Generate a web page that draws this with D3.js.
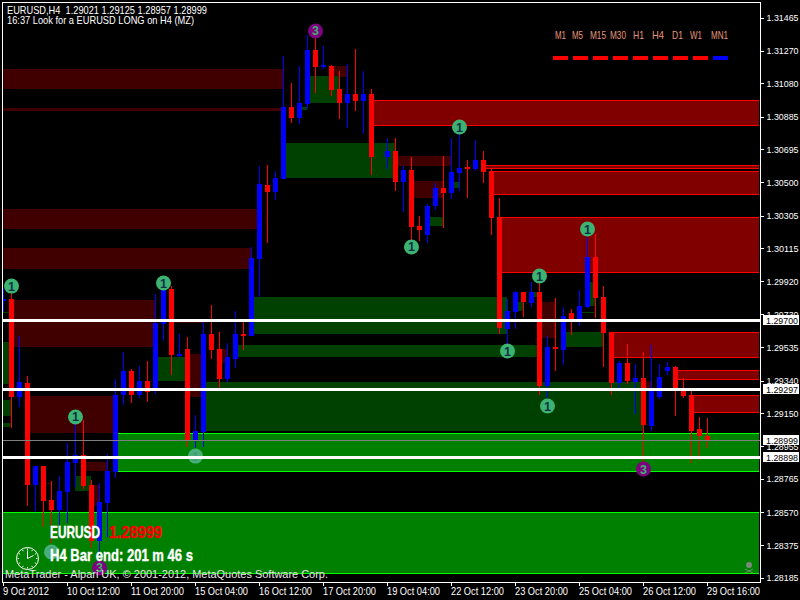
<!DOCTYPE html>
<html>
<head>
<meta charset="utf-8">
<script src="https://cdn.jsdelivr.net/npm/d3@7"></script>
<style>
  html, body { margin: 0; padding: 0; background: #000; overflow: hidden; }
  svg { display: block; font-family: "Liberation Sans", sans-serif; }
</style>
</head>
<body>
<div id="chart"></div>
<script>
// candles, null = the hole in the H4 history at 17/18 Oct
const barOpen = [1.29806,1.29817,1.29244,1.29326,1.28729,1.28840,1.28641,1.28582,1.28688,1.28858,1.28904,1.28729,1.28401,1.28623,1.28805,1.29255,1.29396,1.29255,1.29337,1.29279,1.29671,1.29876,1.29490,1.29525,1.28986,1.29039,1.29613,1.29525,1.29349,1.29466,1.29613,1.29601,1.30052,1.30485,1.30444,1.30520,1.30941,1.30877,1.30959,1.31275,1.31175,1.31181,1.31047,1.30965,1.31017,1.30976,1.31017,null,1.30649,1.30684,1.30502,1.30572,1.30245,1.30192,1.30362,1.30467,1.30438,1.30555,1.30590,1.30578,1.30631,1.30567,1.30297,1.29642,1.29741,1.29858,1.29794,1.29858,1.29308,1.29537,1.29519,1.29736,1.29700,1.29771,1.30063,1.29829,1.29624,1.29326,1.29443,1.29332,1.29355,1.29074,1.29244,1.29396,1.29419,1.29279,1.29255,1.29057,1.29016];
const barHigh = [1.29882,1.29911,1.29601,1.29367,1.28840,1.28840,1.28752,1.28781,1.28975,1.29109,1.29109,1.28758,1.28741,1.28910,1.29349,1.29507,1.29408,1.29425,1.29455,1.29847,1.29905,1.29893,1.29613,1.29595,1.29139,1.29683,1.29782,1.29624,1.29560,1.29747,1.29683,1.30122,1.30596,1.30602,1.30567,1.31240,1.31082,1.31181,1.31363,1.31345,1.31298,1.31187,1.31152,1.31193,1.31281,1.31152,1.31047,null,1.30760,1.30760,1.30596,1.30649,1.30303,1.30373,1.30496,1.30654,1.30760,1.30830,1.30631,1.30748,1.30684,1.30578,1.30409,1.29817,1.29864,1.29858,1.29917,1.29929,1.29601,1.29823,1.29771,1.29759,1.29870,1.30180,1.30198,1.29893,1.29624,1.29455,1.29554,1.29437,1.29507,1.29548,1.29437,1.29449,1.29425,1.29355,1.29279,1.29127,1.29121];
const barLow = [1.29741,1.29062,1.29185,1.28606,1.28577,1.28483,1.28389,1.28495,1.28506,1.28717,1.28705,1.28360,1.28319,1.28424,1.28770,1.29197,1.29209,1.29238,1.29215,1.29261,1.29572,1.29373,1.29478,1.28951,1.28945,1.28951,1.29466,1.29297,1.29332,1.29414,1.29519,1.29601,1.29829,1.30145,1.30397,1.30520,1.30847,1.30842,1.30929,1.31023,1.31164,1.31006,1.30871,1.30818,1.30918,1.30783,1.30543,null,1.30578,1.30450,1.30327,1.30145,1.30157,1.30145,1.30338,1.30233,1.30403,1.30450,1.30409,1.30567,1.30496,1.30192,1.29613,1.29548,1.29642,1.29712,1.29771,1.29255,1.29238,1.29396,1.29431,1.29607,1.29659,1.29765,1.29706,1.29419,1.29255,1.29297,1.29320,1.29144,1.28858,1.29045,1.29232,1.29373,1.29133,1.29238,1.28858,1.28875,1.28945];
const barClose = [1.29817,1.29244,1.29332,1.28729,1.28840,1.28635,1.28582,1.28694,1.28863,1.28904,1.28723,1.28401,1.28629,1.28811,1.29255,1.29396,1.29255,1.29337,1.29273,1.29677,1.29870,1.29490,1.29495,1.28986,1.29045,1.29613,1.29519,1.29349,1.29478,1.29613,1.29601,1.30057,1.30491,1.30444,1.30526,1.30941,1.30877,1.30965,1.31275,1.31175,1.31187,1.31041,1.30965,1.31017,1.30976,1.31017,1.30649,null,1.30684,1.30502,1.30572,1.30239,1.30221,1.30362,1.30467,1.30438,1.30561,1.30584,1.30578,1.30631,1.30561,1.30292,1.29648,1.29747,1.29858,1.29800,1.29858,1.29308,1.29537,1.29525,1.29718,1.29700,1.29776,1.30063,1.29823,1.29618,1.29326,1.29443,1.29337,1.29355,1.29080,1.29279,1.29361,1.29419,1.29297,1.29250,1.29045,1.29016,1.28986];

// supply/demand zones: [first bar, last bar (null = runs to the right edge), upper price, lower price]
const weakSupply = [[0,35,1.31164,1.31047],[0,35,1.30935,1.30918],[0,32,1.30344,1.30227],[0,31,1.30116,1.29993],[1,19,1.29812,1.29537],[21,25,1.29694,1.29677],[23,25,1.29495,1.29244],[27,28,1.29525,1.29443],[3,14,1.29250,1.29033],[5,6,1.28741,1.28735],[10,13,1.28863,1.28811],[11,12,1.28729,1.28606],[41,43,1.31181,1.31117],[49,56,1.30654,1.30596],[51,55,1.30508,1.30409],[67,69,1.29800,1.29589],[80,81,1.29337,1.29285]];
const weakDemand = [[38,42,1.31123,1.30965],[37,38,1.30941,1.30924],[35,49,1.30730,1.30526],[56,57,1.30502,1.30467],[53,55,1.30297,1.30245],[31,63,1.29829,1.29613],[29,67,1.29548,1.29478],[70,75,1.29624,1.29537],[64,65,1.29800,1.29747],[66,67,1.29858,1.29829],[73,74,1.29917,1.29776],[72,74,1.29741,1.29736],[19,23,1.29478,1.29337],[25,80,1.29332,1.29045],[0,1,1.29566,1.29320],[0,1,1.29741,1.29736],[0,1,1.29226,1.29133],[0,1,1.29092,1.29068],[9,11,1.28781,1.28694]];
const freshSupply = [[46,null,1.30982,1.30836],[60,null,1.30602,1.30584],[61,null,1.30567,1.30432],[62,null,1.30297,1.29975],[76,null,1.29624,1.29478],[84,null,1.29402,1.29349],[86,null,1.29255,1.29156]];
const freshDemand = [[14,null,1.29033,1.28811],[0,null,1.28571,1.28214]];

// numbered swing markers
const markerBars = [1,20,9,24,6,12,39,51,57,63,67,68,73,80];
const markerPrices = [1.29893,1.29911,1.29127,1.28898,1.28337,1.28243,1.31386,1.30122,1.30824,1.29513,1.29952,1.29191,1.30227,1.28822];
const markerCounts = [1,1,1,1,1,3,3,1,1,1,1,1,1,3];
const markerOnBright = [false,false,false,true,true,false,false,false,false,false,false,false,false,false];

const priceLines = [1.29700, 1.29297, 1.28898];
const bidPrice = 1.28999;

const yTicks = [1.31465,1.31270,1.31080,1.30885,1.30695,1.30500,1.30305,1.30115,1.29920,1.29730,1.29535,1.29340,1.29150,1.28955,1.28765,1.28570,1.28375,1.28185];
const xTickBars = [0,8,16,24,32,40,48,56,64,72,80,88];
const xTickLabels = ["9 Oct 2012","10 Oct 12:00","11 Oct 20:00","15 Oct 04:00","16 Oct 12:00","17 Oct 20:00","19 Oct 04:00","22 Oct 12:00","23 Oct 20:00","25 Oct 04:00","26 Oct 12:00","29 Oct 16:00"];

const tfNames = ["M1","M5","M15","M30","H1","H4","D1","W1","MN1"];
const tfUp = [false,false,false,false,false,false,false,false,true];

const RED = "#ff0000", BLUE = "#0000ff";

const svg = d3.select("#chart").append("svg").attr("width", 800).attr("height", 600);
svg.append("rect").attr("width", 800).attr("height", 600).attr("fill", "#000");

const x = d3.scaleLinear().domain([0, 94.625]).range([3, 760]);
const y = d3.scaleLinear().domain([1.31465, 1.28185]).range([17.5, 577.9]);
const px = i => Math.round(x(i));
const py = p => Math.round(y(p));
const linesNudge = 1.3; // level lines sit a bit under the rounded axis labels

svg.append("defs").append("clipPath").attr("id", "plot")
  .append("rect").attr("x", 3).attr("y", 3).attr("width", 757).attr("height", 579);

const plot = svg.append("g").attr("clip-path", "url(#plot)").attr("shape-rendering", "crispEdges");

function drawZones(zones, fill, border) {
  const g = plot.append("g");
  const x1 = d => d[1] === null ? 759 : px(d[1]);
  g.selectAll("rect").data(zones).join("rect")
    .attr("x", d => px(d[0]))
    .attr("y", d => py(d[2]))
    .attr("width", d => x1(d) - px(d[0]))
    .attr("height", d => py(d[3]) - py(d[2]))
    .attr("fill", fill);
  if (border) {
    [2, 3].forEach(k => {
      g.selectAll("line.b" + k).data(zones).join("line")
        .attr("class", "b" + k)
        .attr("x1", d => px(d[0])).attr("x2", x1)
        .attr("y1", d => py(d[k]) + 0.5).attr("y2", d => py(d[k]) + 0.5)
        .attr("stroke", border);
    });
  }
}
drawZones(weakSupply, "#400000");
drawZones(weakDemand, "#004000");
drawZones(freshDemand, "#008000", "#00ff00");
drawZones(freshSupply, "#800000", "#ff0000");

// candles
const bars = d3.range(barOpen.length).filter(i => barOpen[i] !== null);
const barColor = i => barClose[i] >= barOpen[i] ? BLUE : RED;
plot.append("g").selectAll("rect").data(bars).join("rect")
  .attr("x", i => px(i)).attr("width", 1)
  .attr("y", i => py(barHigh[i]))
  .attr("height", i => py(barLow[i]) - py(barHigh[i]))
  .attr("fill", barColor);
plot.append("g").selectAll("rect").data(bars).join("rect")
  .attr("x", i => px(i) - 2).attr("width", 5)
  .attr("y", i => py(Math.max(barOpen[i], barClose[i])))
  .attr("height", i => Math.max(2, py(Math.min(barOpen[i], barClose[i])) - py(Math.max(barOpen[i], barClose[i]))))
  .attr("fill", barColor);

// markers
const markers = svg.append("g").selectAll("g").data(markerBars).join("g")
  .attr("transform", (b, i) => `translate(${px(b) + 0.5},${y(markerPrices[i])})`);
markers.append("circle").attr("r", 7.5)
  .attr("fill", (b, i) => markerCounts[i] === 3 ? "#800080" : markerOnBright[i] ? "#4aae7c" : "#3cb371");
markers.append("text").text((b, i) => markerCounts[i])
  .attr("text-anchor", "middle").attr("y", 4.5).attr("font-size", 12.5).attr("font-weight", "bold")
  .attr("fill", (b, i) => markerCounts[i] === 3 ? "#3cb371" : markerOnBright[i] ? "#3f9f70" : "#10304a");

// level lines
const levels = svg.append("g").attr("shape-rendering", "crispEdges");
levels.append("rect").attr("x", 3).attr("width", 757).attr("y", Math.round(y(bidPrice) + linesNudge)).attr("height", 1).attr("fill", "#808080");
levels.selectAll("rect.level").data(priceLines).join("rect").attr("class", "level")
  .attr("x", 3).attr("width", 757)
  .attr("y", d => Math.round(y(d) + linesNudge - 1.5)).attr("height", 3)
  .attr("fill", "#fff");

// frame
svg.append("rect").attr("x", 2.5).attr("y", 2.5).attr("width", 758).attr("height", 580)
  .attr("fill", "none").attr("stroke", "#fff").attr("shape-rendering", "crispEdges");

// axes
const yAxis = svg.append("g").attr("transform", "translate(760.5,0)")
  .call(d3.axisRight(y).tickValues(yTicks).tickFormat(d3.format(".5f")).tickSize(3).tickPadding(3));
const xAxis = svg.append("g").attr("transform", "translate(0,582.5)")
  .call(d3.axisBottom(x).tickValues(xTickBars).tickFormat((d, i) => xTickLabels[i]).tickSize(3).tickPadding(2));
[yAxis, xAxis].forEach(a => {
  a.select(".domain").remove();
  a.selectAll("line").attr("stroke", "#fff").attr("shape-rendering", "crispEdges");
  a.selectAll("text").attr("fill", "#fff").attr("font-family", "Liberation Sans").attr("font-size", 10.5)
    .attr("lengthAdjust", "spacingAndGlyphs");
});
yAxis.selectAll("text").attr("font-size", 9.6).attr("textLength", 32);
xAxis.selectAll("text").attr("text-anchor", "start").attr("dx", -0.5)
  .attr("textLength", (d, i) => xTickLabels[i].length < 12 ? 46 : 53);

// price flags on the right
const flags = svg.append("g").selectAll("g").data([...priceLines, bidPrice]).join("g")
  .attr("transform", d => `translate(763,${Math.round(y(d) + linesNudge)})`);
flags.append("rect").attr("y", -5).attr("width", 36).attr("height", 10).attr("fill", "#fff").attr("shape-rendering", "crispEdges");
flags.append("text").text(d3.format(".5f")).attr("x", 3).attr("y", 4).attr("font-size", 9.6).attr("fill", "#000")
  .attr("textLength", 32).attr("lengthAdjust", "spacingAndGlyphs");

// header
const header = svg.append("g").attr("fill", "#fff").attr("font-size", 10.5);
header.append("text").attr("x", 7).attr("y", 14).attr("textLength", 200).attr("lengthAdjust", "spacingAndGlyphs")
  .style("white-space", "pre").text("EURUSD,H4  1.29021 1.29125 1.28957 1.28999");
header.append("text").attr("x", 7).attr("y", 24).attr("textLength", 187).attr("lengthAdjust", "spacingAndGlyphs")
  .text("16:37 Look for a EURUSD LONG on H4 (MZ)");

// timeframe panel
const tfX = d3.scalePoint().domain(tfNames).range([553, 713]);
const tfLabelX = [555, 572, 590, 610, 633, 652, 672, 690, 711];
const tfLabelW = [11, 11, 16, 16, 11, 12, 11, 12, 17];
svg.append("g").selectAll("text").data(tfNames).join("text")
  .attr("x", (d, i) => tfLabelX[i]).attr("y", 39)
  .attr("textLength", (d, i) => tfLabelW[i]).attr("lengthAdjust", "spacingAndGlyphs")
  .attr("font-size", 10.5).attr("fill", "#e9967a").text(d => d);
svg.append("g").selectAll("rect").data(tfNames).join("rect")
  .attr("x", d => tfX(d)).attr("y", 56).attr("width", 15).attr("height", 4)
  .attr("fill", (d, i) => tfUp[i] ? BLUE : RED).attr("shape-rendering", "crispEdges");

// info overlay, bottom left
const info = svg.append("g").attr("font-weight", "bold").attr("font-size", 17).attr("stroke-width", 0.4);
info.append("text").attr("x", 50).attr("y", 537.5).attr("fill", "#fff").attr("stroke", "#fff").attr("textLength", 50).attr("lengthAdjust", "spacingAndGlyphs").text("EURUSD");
info.append("text").attr("x", 109).attr("y", 537.5).attr("fill", RED).attr("stroke", RED).attr("textLength", 53).attr("lengthAdjust", "spacingAndGlyphs").text("1.28999");
info.append("text").attr("x", 50).attr("y", 561).attr("fill", "#fff").attr("stroke", "#fff").attr("textLength", 143).attr("lengthAdjust", "spacingAndGlyphs").text("H4 Bar end: 201 m 46 s");

// clock
const clock = svg.append("g").attr("transform", "translate(27.5,558.5)").attr("stroke", "#fff").attr("fill", "none");
clock.append("circle").attr("r", 11).attr("stroke-width", 1);
clock.selectAll("line.t").data(d3.range(12)).join("line").attr("class", "t")
  .attr("x1", d => 8.5 * Math.sin(d * Math.PI / 6)).attr("y1", d => -8.5 * Math.cos(d * Math.PI / 6))
  .attr("x2", d => 10 * Math.sin(d * Math.PI / 6)).attr("y2", d => -10 * Math.cos(d * Math.PI / 6));
clock.append("path").attr("d", "M0,-8V0L6,-3");

// skull, bottom right
const skull = svg.append("g").attr("transform", "translate(749,566)").attr("stroke", "#6f8f6f").attr("fill", "#7a8a7a");
skull.append("circle").attr("cy", -1).attr("r", 3).attr("stroke", "none");
skull.append("path").attr("d", "M-4,3L4,7M4,3L-4,7").attr("fill", "none");

svg.append("text").attr("x", 5).attr("y", 578).attr("font-size", 11).attr("fill", "#e8e8e8").attr("textLength", 323)
  .attr("lengthAdjust", "spacingAndGlyphs")
  .text("MetaTrader - Alpari UK, © 2001-2012, MetaQuotes Software Corp.");
</script>
</body>
</html>
